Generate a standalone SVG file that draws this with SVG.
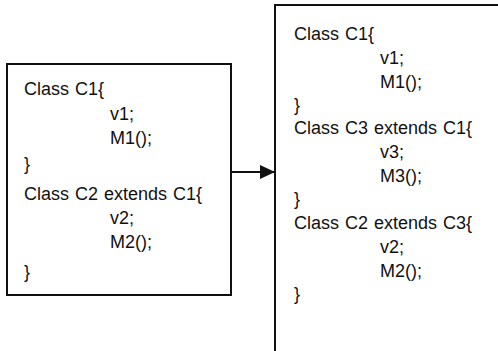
<svg xmlns="http://www.w3.org/2000/svg" width="498" height="351" viewBox="0 0 498 351">
<style>
  text { font-family: "Liberation Sans", Arial, sans-serif; font-size: 18px; word-spacing: 1px; fill: #111; }
  .box { fill: none; stroke: #111; stroke-width: 2; }
  .conn { stroke: #111; stroke-width: 2; fill: none; }
</style>
<defs>
  <marker id="arrow" markerWidth="15" markerHeight="14" refX="14" refY="7" orient="auto" markerUnits="userSpaceOnUse">
    <polygon points="0,0 15,7 0,14" fill="#111"/>
  </marker>
</defs>
<g id="before">
  <rect class="box" x="7" y="64" width="224" height="231"/>
  <text x="24" y="95">Class C1{</text>
  <text x="110" y="120">v1;</text>
  <text x="110" y="144">M1();</text>
  <text x="24" y="170">}</text>
  <text x="24" y="200">Class C2 extends C1{</text>
  <text x="110" y="224">v2;</text>
  <text x="110" y="248">M2();</text>
  <text x="24" y="278">}</text>
</g>
<g id="after">
  <path class="box" d="M275 352 V5 H500"/>
  <text x="294" y="40">Class C1{</text>
  <text x="380" y="64">v1;</text>
  <text x="380" y="88">M1();</text>
  <text x="294" y="111">}</text>
  <text x="294" y="134">Class C3 extends C1{</text>
  <text x="380" y="158">v3;</text>
  <text x="380" y="182">M3();</text>
  <text x="294" y="205">}</text>
  <text x="294" y="229">Class C2 extends C3{</text>
  <text x="380" y="253">v2;</text>
  <text x="380" y="277">M2();</text>
  <text x="294" y="300">}</text>
</g>
<g id="connectors">
  <line class="conn" x1="231" y1="172" x2="274" y2="172" marker-end="url(#arrow)"/>
</g>
</svg>
